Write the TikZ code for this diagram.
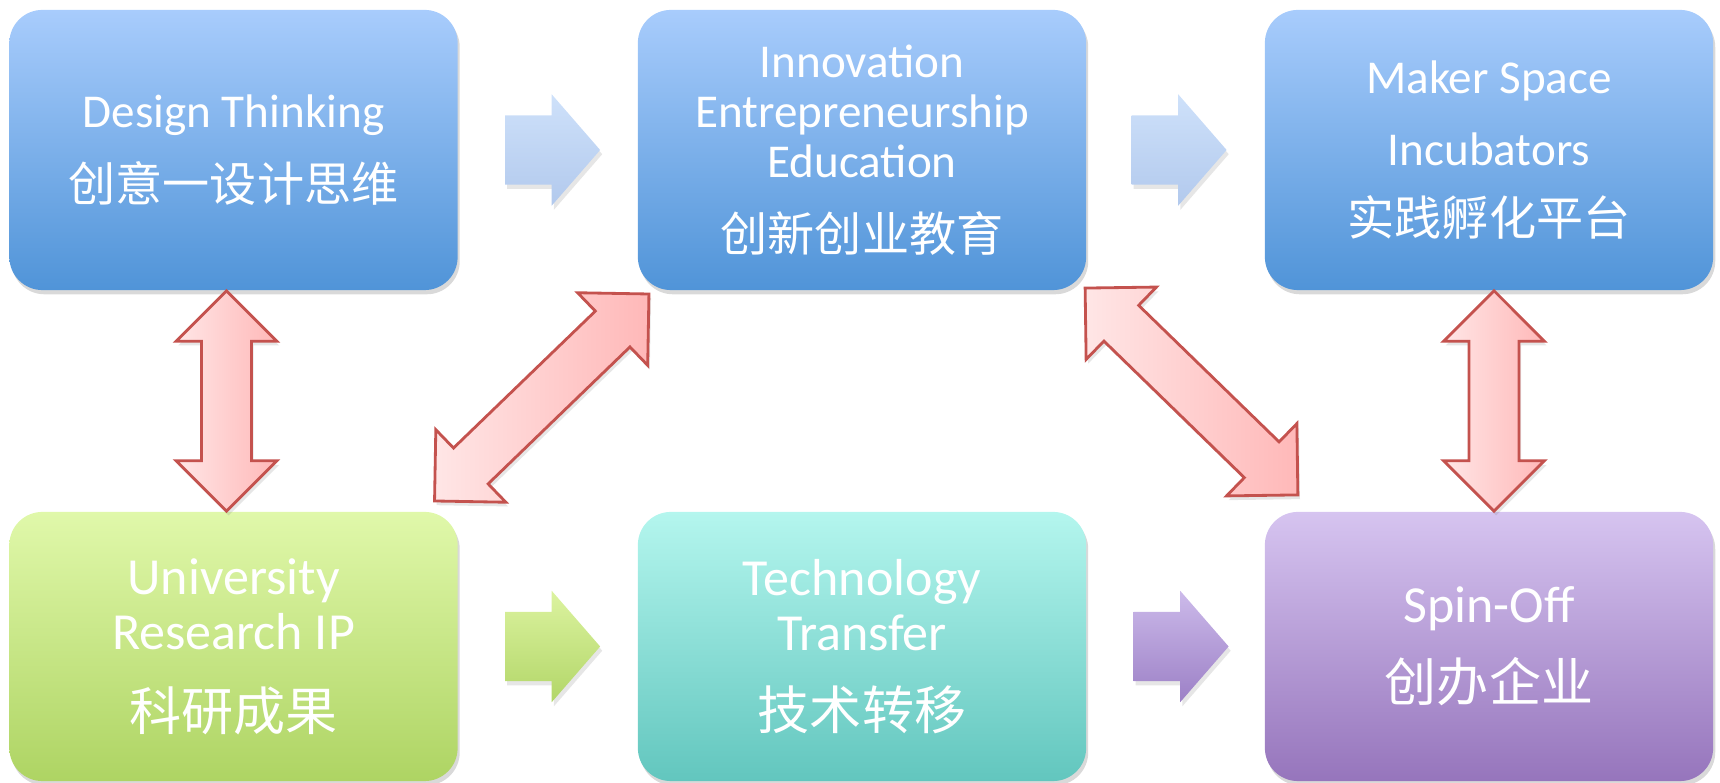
\documentclass[tikz,border=0pt]{standalone}
\usepackage{fontspec}
\setmainfont{Carlito}
\newfontfamily\cjk{Noto Sans CJK SC}
\usetikzlibrary{calc}
\usetikzlibrary{shapes.arrows}
\usetikzlibrary{shadows}
\usepackage{xcolor}

\definecolor{bluetop}{RGB}{168,204,252}
\definecolor{bluebot}{RGB}{80,148,216}
\definecolor{greentop}{RGB}{224,248,170}
\definecolor{greenbot}{RGB}{174,212,99}
\definecolor{tealtop}{RGB}{180,246,238}
\definecolor{tealbot}{RGB}{98,198,190}
\definecolor{purptop}{RGB}{214,196,240}
\definecolor{purpbot}{RGB}{150,117,188}
\definecolor{lbluetop}{RGB}{206,225,250}
\definecolor{lbluebot}{RGB}{178,201,237}
\definecolor{lgreentop}{RGB}{220,243,160}
\definecolor{lgreenbot}{RGB}{178,214,104}
\definecolor{lpurptop}{RGB}{204,186,234}
\definecolor{lpurpbot}{RGB}{156,128,198}
\definecolor{redlight}{RGB}{255,230,230}
\definecolor{reddark}{RGB}{255,184,184}
\definecolor{redline}{RGB}{196,82,78}

\tikzset{
  box/.style={rounded corners=0.33cm, minimum width=4.48cm, inner sep=0pt,
    text=white, align=center,
    drop shadow={shadow xshift=0.6pt, shadow yshift=-1.2pt, opacity=0.3}},
  toprow/.style={box, minimum height=2.8cm,
    font=\fontsize{13.4pt}{14.2pt}\selectfont},
  botrow/.style={box, minimum height=2.69cm,
    font=\fontsize{14.8pt}{15.65pt}\selectfont},
  fwd/.style={single arrow, single arrow tip angle=98, single arrow head extend=0.21cm,
    minimum height=0.95cm, inner xsep=0pt, inner ysep=0.34cm, anchor=tail,
    drop shadow={shadow xshift=0.6pt, shadow yshift=-1.2pt, opacity=0.2}},
  both/.style={double arrow, double arrow tip angle=90, double arrow head extend=0.255cm,
    inner xsep=0pt, inner ysep=0.235cm, draw=redline, line width=0.8pt,
    left color=redlight, right color=reddark, allow upside down,
    drop shadow={shadow xshift=0.6pt, shadow yshift=-1.2pt, opacity=0.2}},
}

\begin{document}
\lineskiplimit=-20pt
\begin{tikzpicture}[x=0.01cm, y=-0.01cm]
    \useasboundingbox (0,0) rectangle (1720,783);

    % top row
    \node[toprow, top color=bluetop, bottom color=bluebot] (dt) at (233.5,150)
        {Design Thinking\\[6.85pt]{\cjk 创意一设计思维}};
    \node[toprow, top color=bluetop, bottom color=bluebot] (ie) at (862,150)
        {Innovation\\Entrepreneurship\\Education\\[6.85pt]{\cjk 创新创业教育}};
    \node[toprow, top color=bluetop, bottom color=bluebot] (ms) at (1489,150)
        {Maker Space\\[6.3pt]Incubators\\[5.7pt]{\cjk 实践孵化平台}};

    % bottom row
    \node[botrow, top color=greentop, bottom color=greenbot] (ur) at (233.5,646.5)
        {University\\Research IP\\[7.4pt]{\cjk 科研成果}};
    \node[botrow, top color=tealtop, bottom color=tealbot] (tt) at (862,646.5)
        {Technology\\Transfer\\[6.8pt]{\cjk 技术转移}};
    \node[botrow, top color=purptop, bottom color=purpbot] (so) at (1489,646.5)
        {Spin-Off\\[6.8pt]{\cjk 创办企业}};

    % flow arrows
    \node[fwd, top color=lbluetop, bottom color=lbluebot] (f1) at ([xshift=0.46cm]dt.east) {};
    \node[fwd, top color=lbluetop, bottom color=lbluebot] (f2) at ([xshift=0.44cm]ie.east) {};
    \node[fwd, top color=lgreentop, bottom color=lgreenbot] (f3) at ([xshift=0.46cm]ur.east) {};
    \node[fwd, top color=lpurptop, bottom color=lpurpbot] (f4) at ([xshift=0.46cm]tt.east) {};

    % two-way links
    \coordinate (dtb) at ([xshift=-0.07cm]dt.south);
    \coordinate (urt) at ([xshift=-0.07cm]ur.north);
    \coordinate (msb) at ([xshift=0.05cm]ms.south);
    \coordinate (sot) at ([xshift=0.05cm]so.north);
    \coordinate (iel) at ([xshift=0.12cm, yshift=-0.03cm]ie.south west);
    \coordinate (urr) at ([xshift=-0.24cm, yshift=0.1cm]ur.north east);
    \coordinate (ier) at ([xshift=-0.02cm, yshift=0.03cm]ie.south east);
    \coordinate (sol) at ([xshift=0.34cm, yshift=0.16cm]so.north west);

    \path let \p1=($(urt)-(dtb)$), \n1={veclen(\x1,\y1)} in
        (dtb) -- (urt) node[midway, sloped, both, minimum height=\n1] (b1) {};
    \path let \p1=($(urr)-(iel)$), \n1={veclen(\x1,\y1)} in
        (iel) -- (urr) node[midway, sloped, both, minimum height=\n1] (b2) {};
    \path let \p1=($(sol)-(ier)$), \n1={veclen(\x1,\y1)} in
        (ier) -- (sol) node[midway, sloped, both, minimum height=\n1] (b3) {};
    \path let \p1=($(sot)-(msb)$), \n1={veclen(\x1,\y1)} in
        (msb) -- (sot) node[midway, sloped, both, minimum height=\n1] (b4) {};
\end{tikzpicture}
\end{document}
